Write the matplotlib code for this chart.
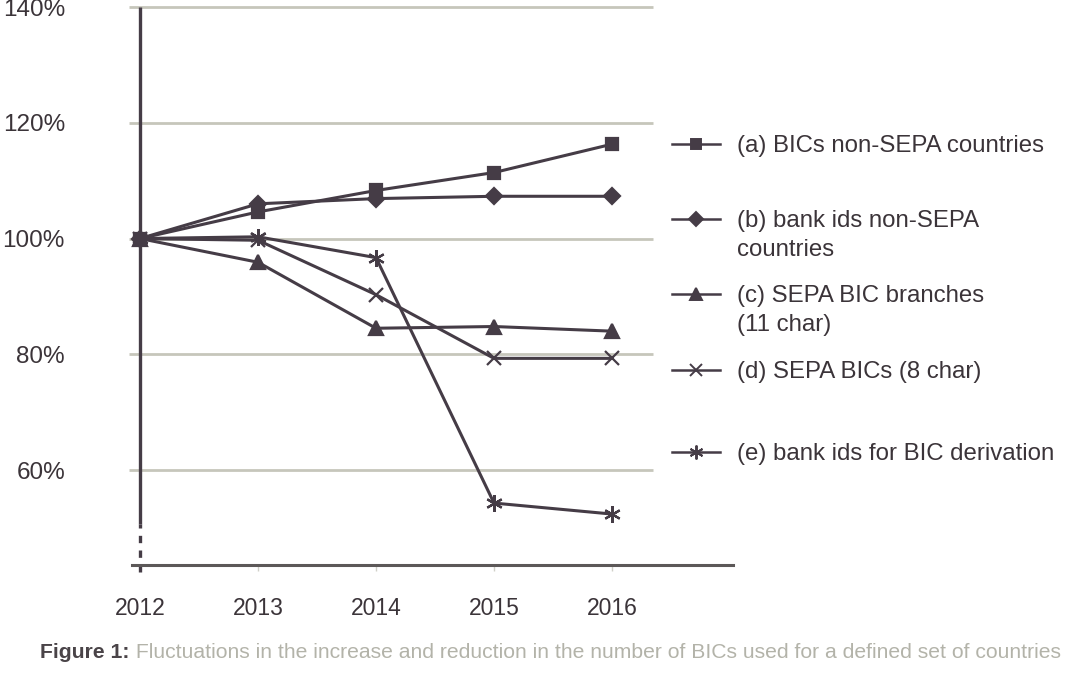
import numpy as np
import matplotlib
matplotlib.use("Agg")
import matplotlib.pyplot as plt
from matplotlib.lines import Line2D

plt.rcParams['font.family'] = ['Liberation Sans', 'DejaVu Sans']

# data (index, 2012 = 100%)
years = [2012, 2013, 2014, 2015, 2016]
bics_non_sepa = [100, 104.6, 108.3, 111.4, 116.3]
bank_ids_non_sepa = [100, 106.0, 106.9, 107.3, 107.3]
sepa_branches = [100, 95.9, 84.5, 84.8, 84.0]
sepa_bics = [100, 99.7, 90.3, 79.3, 79.3]
bank_ids_derivation = [100, 100.3, 96.7, 54.3, 52.4]

labels = ["(a) BICs non-SEPA countries",
          "(b) bank ids non-SEPA\ncountries",
          "(c) SEPA BIC branches\n(11 char)",
          "(d) SEPA BICs (8 char)",
          "(e) bank ids for BIC derivation"]
yticks = [60, 80, 100, 120, 140]
ytick_labels = ["60%", "80%", "100%", "120%", "140%"]
caption_head = "Figure 1:"
caption_body = " Fluctuations in the increase and reduction in the number of BICs used for a defined set of countries"

W, H = 1080, 675
dark = '#453c46'
grid = '#c6c6bb'
txt = '#3b3439'

fig = plt.figure(figsize=(W / 100, H / 100), dpi=100)
ax = fig.add_axes([140 / W, 1 - 565 / H, 593 / W, 558 / H])

px_year = 118.0
ymin, ymax = 43.6, 140
ax.set_xlim(2012, 2012 + 593 / px_year)
ax.set_ylim(ymin, ymax)
for s in ax.spines.values():
    s.set_visible(False)

# grid lines, poking a little left of the axis like ticks
ax.hlines(yticks, 2012 - 11 / px_year, 2016 + 41 / px_year, color=grid, lw=2, zorder=1, clip_on=False)

# y axis with a broken (dashed) bottom
ax.plot([2012, 2012], [50.7, ymax], color=dark, lw=2.4, zorder=2, clip_on=False, solid_capstyle='butt')
ax.plot([2012, 2012], [ymin - 1.2, 50.7], color=dark, lw=2.4, dashes=(2.2, 2.2), zorder=2, clip_on=False)
# x axis
ax.plot([2012 - 8 / px_year, 2012 + 593 / px_year], [ymin, ymin], color='#5c5858', lw=2.2, zorder=2, clip_on=False)

series = [bics_non_sepa, bank_ids_non_sepa, sepa_branches, sepa_bics, bank_ids_derivation]
markers = ['s', 'D', '^', 'x', (6, 2, 0)]
msizes = [9, 8, 10, 10, 12]
for vals, m, ms in zip(series, markers, msizes):
    ax.plot(years, vals, color=dark, lw=2.2, marker=m, ms=ms, mew=1.6, mfc=dark, mec=dark, zorder=3, clip_on=False)

ax.set_yticks(yticks)
ax.set_yticklabels(ytick_labels)
ax.set_xticks(years)
ax.set_xticklabels([str(y) for y in years])
ax.tick_params(axis='y', length=0, pad=54, labelsize=17.5, labelcolor=txt)
ax.tick_params(axis='x', length=4, width=1, color='#d0d0c8', direction='out', pad=19, labelsize=16.5, labelcolor=txt)
for t in ax.get_yticklabels():
    t.set_horizontalalignment('right')

# legend drawn by hand, entries are not evenly spaced
leg_y = [144, 219, 294, 370, 452]
leg_ms = [7, 7, 9, 8, 10]
for lab, m, ms, yy in zip(labels, markers, leg_ms, leg_y):
    yf = 1 - yy / H
    fig.add_artist(Line2D([672 / W, 720 / W], [yf, yf], color=dark, lw=1.8))
    fig.add_artist(Line2D([696 / W], [yf], color=dark, marker=m, ms=ms, mew=1.4, mfc=dark, mec=dark, lw=0))
    fig.text(737 / W, 1 - (yy - 9) / H, lab, fontsize=17.3, color=txt, va='top', ha='left', linespacing=1.4)

# caption
t1 = fig.text(40 / W, 1 - 652 / H, caption_head, fontsize=15.2, color='#4a4448', va='center', ha='left', fontweight='bold')
fig.canvas.draw()
bb = t1.get_window_extent()
fig.text(bb.x1 / W, 1 - 652 / H, caption_body, fontsize=15.2, color='#b3b3a9', va='center', ha='left')

fig.savefig('out.png', dpi=100)
